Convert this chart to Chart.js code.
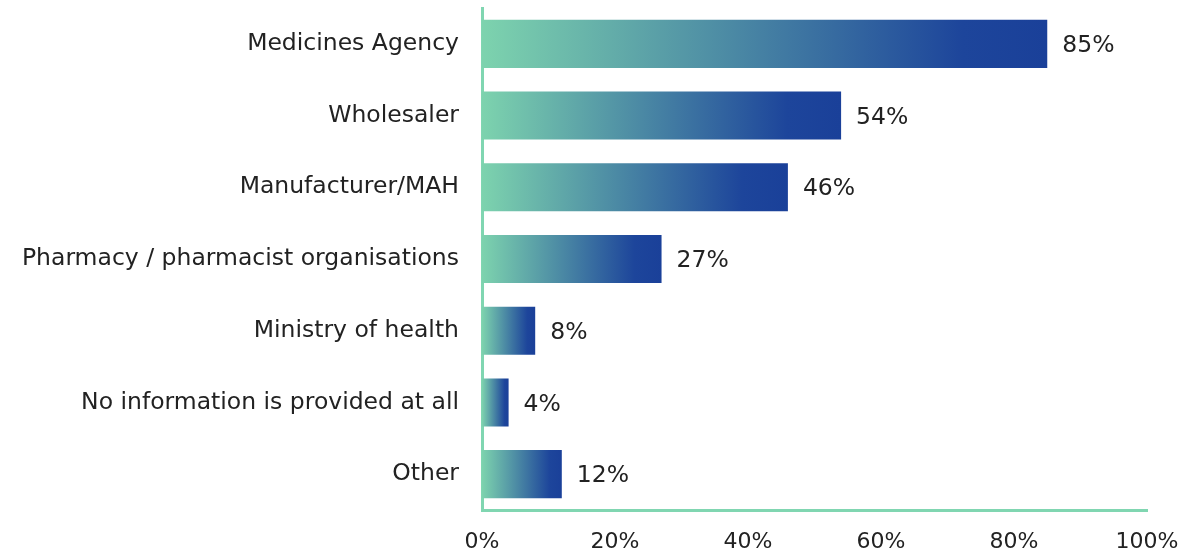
<!DOCTYPE html>
<html>
<head>
<meta charset="utf-8">
<script src="https://cdn.jsdelivr.net/npm/chart.js@4"></script>
<style>
  html, body { margin: 0; padding: 0; background: #fff; }
  #wrap { width: 1186px; height: 555px; }
</style>
</head>
<body>
<div id="wrap"><canvas id="chart" width="1186" height="555"></canvas></div>
<script>
const categories = [
  'Medicines Agency',
  'Wholesaler',
  'Manufacturer/MAH',
  'Pharmacy / pharmacist organisations',
  'Ministry of health',
  'No information is provided at all',
  'Other'
];
const shares = [85, 54, 46, 27, 8, 4, 12];
const xTicks = [0, 20, 40, 60, 80, 100];

const FONT = 'DejaVu Sans';
const AXIS_GREEN = '#80d6b1';

// each bar gets its own green->blue gradient, from the axis to its end
function barGradient(context) {
  const chart = context.chart;
  const x = chart.scales.x;
  if (!chart.chartArea || !x) return '#4a8fa0';
  const v = context.raw;
  const x0 = x.getPixelForValue(0);
  const x1 = x.getPixelForValue(v);
  if (!isFinite(x0) || !isFinite(x1) || x1 <= x0) return '#7dd3ae';
  const g = chart.ctx.createLinearGradient(x0, 0, x1, 0);
  g.addColorStop(0, '#7dd3ae');
  g.addColorStop(0.85, '#1d459b');
  g.addColorStop(1, '#1a4099');
  return g;
}

const valueLabels = {
  id: 'valueLabels',
  afterDatasetsDraw(chart) {
    const ctx = chart.ctx;
    const meta = chart.getDatasetMeta(0);
    ctx.save();
    ctx.font = '23.5px "' + FONT + '"';
    ctx.fillStyle = '#222';
    ctx.textBaseline = 'middle';
    ctx.textAlign = 'left';
    meta.data.forEach((bar, i) => {
      ctx.fillText(shares[i] + '%', bar.x + 15, bar.y + 2);
    });
    ctx.restore();
  }
};

new Chart(document.getElementById('chart'), {
  type: 'bar',
  data: {
    labels: categories,
    datasets: [{
      data: shares,
      backgroundColor: barGradient,
      borderWidth: 0,
      barPercentage: 0.67,
      categoryPercentage: 1
    }]
  },
  options: {
    indexAxis: 'y',
    responsive: false,
    animation: false,
    layout: { padding: { top: 8, right: 39, bottom: 0, left: 0 } },
    plugins: {
      legend: { display: false },
      tooltip: { enabled: false }
    },
    scales: {
      x: {
        min: 0,
        max: 100,
        afterBuildTicks(scale) { scale.ticks = xTicks.map(v => ({ value: v })); },
        afterFit(scale) {
          scale.height = 45;
          scale.paddingLeft = 0;
          scale.paddingRight = 0;
        },
        grid: { display: false },
        border: { display: true, color: AXIS_GREEN, width: 3 },
        ticks: {
          color: '#222',
          font: { family: FONT, size: 22 },
          padding: 11,
          maxRotation: 0,
          callback: v => v + '%'
        }
      },
      y: {
        grid: { display: false },
        border: { display: true, color: AXIS_GREEN, width: 3 },
        afterFit(scale) {
          scale.width = 482;
          scale.paddingTop = 0;
          scale.paddingBottom = 0;
        },
        ticks: {
          color: '#222',
          font: { family: FONT, size: 23.5 },
          padding: 15
        }
      }
    }
  },
  plugins: [valueLabels]
});
</script>
</body>
</html>
